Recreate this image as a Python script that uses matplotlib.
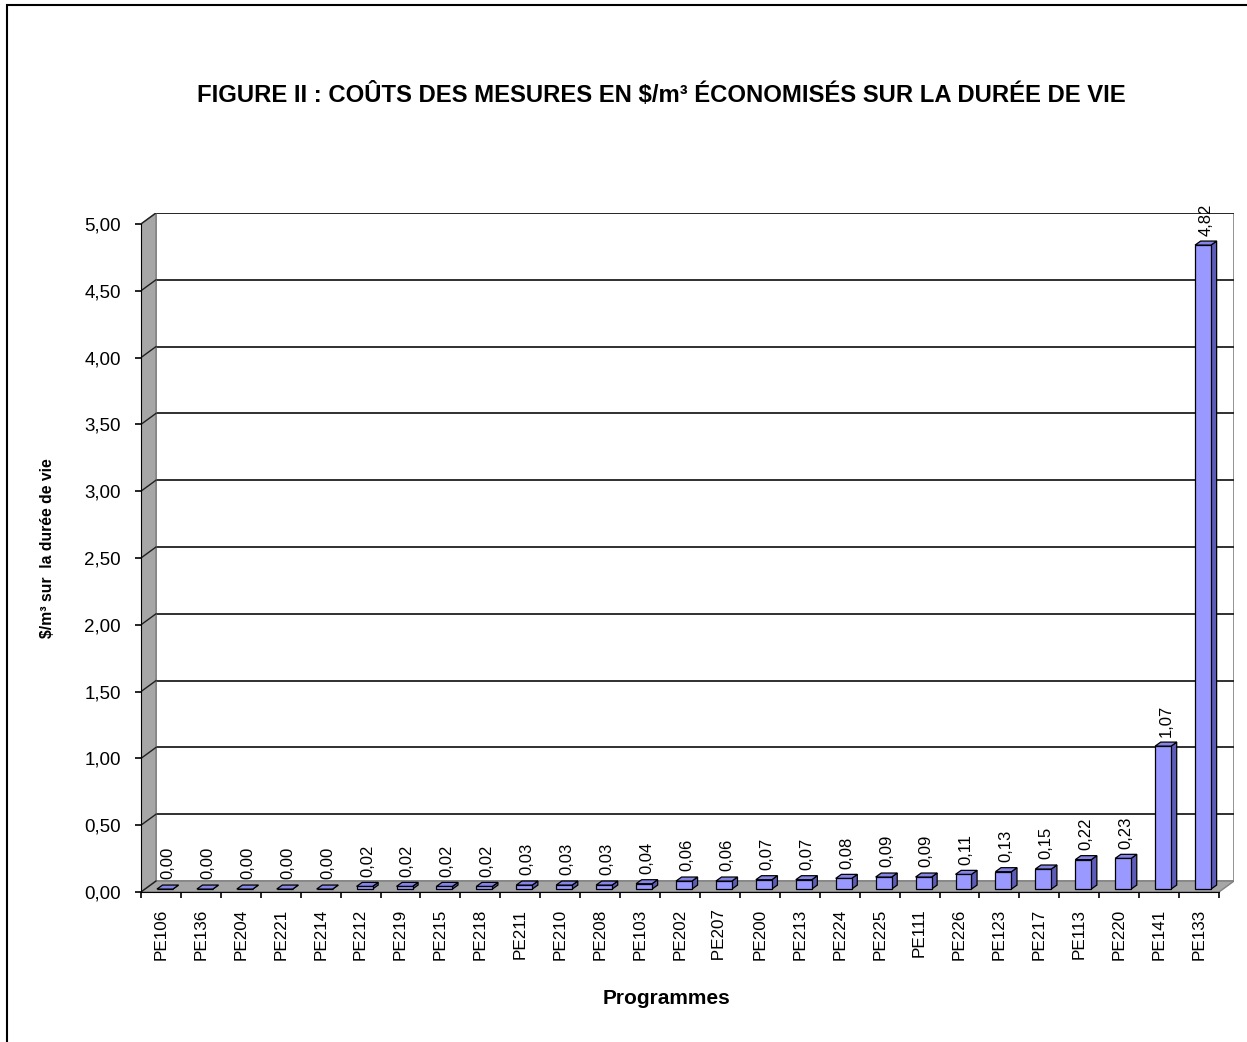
import matplotlib
matplotlib.use("Agg")
import matplotlib.pyplot as plt
from matplotlib.patches import Polygon, Rectangle
import numpy as np

plt.rcParams['font.family'] = ['Liberation Sans', 'DejaVu Sans']

programmes = ['PE106', 'PE136', 'PE204', 'PE221', 'PE214', 'PE212', 'PE219', 'PE215',
              'PE218', 'PE211', 'PE210', 'PE208', 'PE103', 'PE202', ' PE207', 'PE200',
              'PE213', 'PE224', 'PE225', 'PE111', 'PE226', 'PE123', 'PE217', 'PE113',
              'PE220', 'PE141', 'PE133']
couts = [0.00, 0.00, 0.00, 0.00, 0.00, 0.02, 0.02, 0.02,
         0.02, 0.03, 0.03, 0.03, 0.04, 0.06, 0.06, 0.07,
         0.07, 0.08, 0.09, 0.09, 0.11, 0.13, 0.15, 0.22,
         0.23, 1.07, 4.82]
yticks = np.arange(0, 5.01, 0.5)

W, H = 1247, 1042
n = len(programmes)
ymax = 5.0
# depth of the fake 3D box (category units / value units)
DX, DY = 0.375, 0.082
# bar geometry
BW = 0.40      # front face width
BSX = 0.10     # shift of front face toward the back
BSY = 0.022
BDX = 0.14     # bar depth
BDY = 0.03

face = '#9999FF'
side = '#5C5CB8'
top = '#8585E8'
wall = '#A6A6A6'

fig = plt.figure(figsize=(W / 100, H / 100), dpi=100)
fig.patches.append(Rectangle((7 / W, -0.1), 1.2, 1 - 5 / H + 0.1, transform=fig.transFigure,
                             fill=False, edgecolor='black', linewidth=1.5))

x0, x1 = 141, 1234
y0, y1 = 892, 213
ax = fig.add_axes([x0 / W, 1 - y0 / H, (x1 - x0) / W, (y0 - y1) / H])
ax.set_xlim(0, n + DX)
ax.set_ylim(0, ymax + DY)
ax.patch.set_visible(False)

# back wall
ax.add_patch(Rectangle((DX, DY), n, ymax, facecolor='white', edgecolor='#808080',
                       linewidth=1.2, zorder=0))
# left wall
ax.add_patch(Polygon([(0, 0), (DX, DY), (DX, ymax + DY), (0, ymax)], closed=True,
                     facecolor=wall, edgecolor='#808080', linewidth=1.0, zorder=1))
# floor
ax.add_patch(Polygon([(0, 0), (n, 0), (n + DX, DY), (DX, DY)], closed=True,
                     facecolor=wall, edgecolor='#808080', linewidth=1.0, zorder=1))

for v in yticks:
    if v > 0:
        ax.plot([DX, n + DX], [v + DY, v + DY], color='#202020', lw=1.3, zorder=0.5)
    ax.plot([0, DX], [v, v + DY], color='#202020', lw=1.0, zorder=2)

# bars
for i, v in enumerate(couts):
    l = i + 0.5 - BW / 2 + BSX
    r = l + BW
    b = BSY
    t = v + BSY
    front = [(l, b), (r, b), (r, t), (l, t)]
    sidef = [(r, b), (r + BDX, b + BDY), (r + BDX, t + BDY), (r, t)]
    topf = [(l, t), (r, t), (r + BDX, t + BDY), (l + BDX, t + BDY)]
    ax.add_patch(Polygon(sidef, closed=True, facecolor=side, edgecolor='black', lw=0.9, zorder=3))
    ax.add_patch(Polygon(front, closed=True, facecolor=face, edgecolor='black', lw=0.9, zorder=3))
    ax.add_patch(Polygon(topf, closed=True, facecolor=top, edgecolor='black', lw=0.9, zorder=3))
    ax.annotate(f'{v:.2f}'.replace('.', ','), xy=(l + BW / 2 + BDX / 2, t + BDY),
                xytext=(0, 4), textcoords='offset points', rotation=90,
                ha='center', va='bottom', fontsize=12, zorder=4)

# axes
for s in ['top', 'right']:
    ax.spines[s].set_visible(False)
ax.spines['left'].set_bounds(0, ymax)
ax.spines['bottom'].set_bounds(0, n)
ax.spines['left'].set_zorder(2.5)
ax.spines['bottom'].set_zorder(2.5)
ax.set_yticks(yticks)
ax.set_yticklabels([f'{v:.2f}'.replace('.', ',') for v in yticks], fontsize=13.5)
ax.tick_params(axis='y', direction='out', length=4, width=1.2, pad=10.5)
ax.set_xticks(np.arange(0, n + 1))
ax.set_xticklabels([])
ax.set_xticks(np.arange(n) + 0.5, minor=True)
ax.set_xticklabels(programmes, minor=True, rotation=90, fontsize=12.3)
ax.tick_params(axis='x', which='major', direction='out', length=4.5, width=1.2)
ax.tick_params(axis='x', which='minor', length=0, pad=12)

fig.text(661 / W, 1 - 95 / H, 'FIGURE II : COÛTS DES MESURES EN $/m³ ÉCONOMISÉS SUR LA DURÉE DE VIE',
         ha='center', va='center', fontsize=17.2, fontweight='bold')
fig.text(48 / W, 1 - 548 / H, '$/m³ sur  la durée de vie', rotation=90,
         ha='center', va='center', fontsize=11.3, fontweight='bold')
fig.text(667 / W, 1 - 998 / H, 'Programmes', ha='center', va='center',
         fontsize=15, fontweight='bold')

fig.savefig('out.png', dpi=100)
